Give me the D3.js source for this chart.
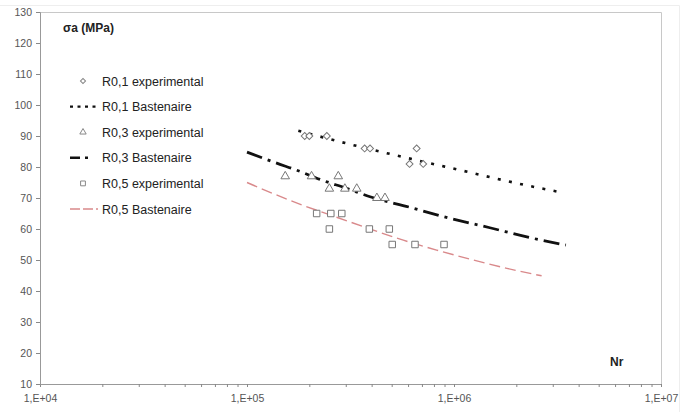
<!DOCTYPE html>
<html>
<head>
<meta charset="utf-8">
<script src="https://cdn.jsdelivr.net/npm/d3@7"></script>
<style>
  body { margin: 0; background: #fff; }
  text { font-family: "Liberation Sans", Arial, sans-serif; }
</style>
</head>
<body>
<div id="chart"></div>
<script>
// data
var expR01N = [1.9e5, 2.0e5, 2.43e5, 3.7e5, 3.93e5, 6.1e5, 6.6e5, 7.1e5];
var expR01S = [90, 90, 90, 86, 86, 81, 86, 81];
var expR03N = [1.53e5, 2.05e5, 2.76e5, 2.5e5, 2.97e5, 3.39e5, 4.24e5, 4.64e5];
var expR03S = [77, 77, 77, 73, 73, 73, 70, 70];
var expR05N = [2.17e5, 2.54e5, 2.87e5, 2.5e5, 3.9e5, 4.87e5, 5.03e5, 6.48e5, 8.95e5];
var expR05S = [65, 65, 65, 60, 60, 60, 55, 55, 55];

var basR01N = [1.77e5, 3.03e5, 4.64e5, 7.66e5, 1.17e6, 1.52e6, 2.2e6, 3.31e6];
var basR01S = [91.7, 87.6, 84.6, 81.2, 78.4, 76.6, 74.2, 71.8];
var basR03N = [1e5, 1.37e5, 1.8e5, 2.25e5, 3.03e5, 3.93e5, 6.12e5, 8.87e5, 1.49e6, 2.33e6, 3.47e6];
var basR03S = [84.8, 81.4, 78.6, 76.0, 73.1, 70.4, 67.0, 64.0, 60.4, 57.2, 54.8];
var basR05N = [1e5, 1.34e5, 1.87e5, 2.71e5, 3.93e5, 5.69e5, 8.24e5, 1.24e6, 1.8e6, 2.65e6];
var basR05S = [75, 71.4, 67.6, 63.8, 60.0, 56.4, 53.2, 50.0, 47.3, 44.9];

var yTicks = [10, 20, 30, 40, 50, 60, 70, 80, 90, 100, 110, 120, 130];
var xMajor = [1e4, 1e5, 1e6, 1e7];

var legendLabels = ["R0,1 experimental", "R0,1 Bastenaire", "R0,3 experimental",
  "R0,3 Bastenaire", "R0,5 experimental", "R0,5 Bastenaire"];

var svgWidth = 691;
var svgHeight = 412;
var margin = { top: 12, right: 30, bottom: 28, left: 40 };
var width = svgWidth - margin.left - margin.right;
var height = svgHeight - margin.top - margin.bottom;

var svg = d3.select("#chart").append("svg")
  .attr("width", svgWidth)
  .attr("height", svgHeight);

svg.append("rect").attr("width", svgWidth).attr("height", svgHeight).attr("fill", "#fff");

// faint outer chart border
svg.append("path")
  .attr("d", "M0,5.5H679.5V412")
  .attr("fill", "none").attr("stroke", "#eee");

var chartGroup = svg.append("g")
  .attr("transform", `translate(${margin.left}, ${margin.top})`);

var x = d3.scaleLog().domain([1e4, 1e7]).range([0, width]);
var y = d3.scaleLinear().domain([10, 130]).range([height, 0]);

// plot area border (top and right)
chartGroup.append("path")
  .attr("d", `M0,0.5H${width + 0.5}V${height}`)
  .attr("fill", "none").attr("stroke", "#c8c8c8");

// minor ticks 2..9 per decade
var minorTicks = [];
[1e4, 1e5, 1e6].forEach(function(d) {
  for (var k = 2; k <= 9; k++) minorTicks.push(d * k);
});

var bottomAxis = d3.axisBottom(x)
  .tickValues(minorTicks.concat(xMajor))
  .tickSize(3)
  .tickFormat(function(d) {
    return xMajor.indexOf(d) >= 0 ? "1,E+0" + Math.round(Math.log10(d)) : "";
  });

var xAxisG = chartGroup.append("g")
  .attr("transform", `translate(0, ${height})`)
  .call(bottomAxis);
xAxisG.select(".domain").attr("stroke", "#999");
xAxisG.selectAll(".tick line").attr("stroke", "#888");
xAxisG.selectAll(".tick text")
  .attr("y", 11)
  .attr("fill", "#555")
  .attr("font-size", 10.5)
  .attr("font-family", "Liberation Sans, Arial, sans-serif");

var leftAxis = d3.axisLeft(y).tickValues(yTicks).tickSize(4).tickPadding(4);
var yAxisG = chartGroup.append("g").call(leftAxis);
yAxisG.select(".domain").attr("stroke", "#999");
yAxisG.selectAll(".tick line").attr("stroke", "#888");
yAxisG.selectAll(".tick text")
  .attr("fill", "#555")
  .attr("font-size", 10.5)
  .attr("font-family", "Liberation Sans, Arial, sans-serif");

// Bastenaire curves
var line = d3.line()
  .x(d => x(d[0]))
  .y(d => y(d[1]))
  .curve(d3.curveMonotoneX);

var curves = [
  { n: basR01N, s: basR01S, color: "#111", width: 2.6, dash: "3,8.4", leg: "3,4.5" },
  { n: basR03N, s: basR03S, color: "#111", width: 2.8, dash: "16,6,3,6", leg: "10,5,3,20" },
  { n: basR05N, s: basR05S, color: "#d9898b", width: 1.4, dash: "11,5", leg: "10,3" }
];

curves.forEach(function(c) {
  chartGroup.append("path")
    .datum(d3.zip(c.n, c.s))
    .attr("d", line)
    .attr("fill", "none")
    .attr("stroke", c.color)
    .attr("stroke-width", c.width)
    .attr("stroke-dasharray", c.dash);
});

// experimental points (diamond = square turned 45 degrees, as in Excel)
var pointSets = [
  { n: expR01N, s: expR01S, type: d3.symbolSquare, size: 24, rot: 45 },
  { n: expR03N, s: expR03S, type: d3.symbolTriangle, size: 32, rot: 0 },
  { n: expR05N, s: expR05S, type: d3.symbolSquare, size: 42, rot: 0 }
];

pointSets.forEach(function(p) {
  chartGroup.selectAll(null)
    .data(d3.zip(p.n, p.s))
    .enter()
    .append("path")
    .attr("transform", d => `translate(${x(d[0])}, ${y(d[1])}) rotate(${p.rot})`)
    .attr("d", d3.symbol().type(p.type).size(p.size))
    .attr("fill", "#fff")
    .attr("stroke", "#777")
    .attr("stroke-width", 1);
});

// axis titles
chartGroup.append("text")
  .attr("x", 23).attr("y", 20)
  .attr("font-size", 12).attr("font-weight", "bold").attr("fill", "#222")
  .text("σa (MPa)");

chartGroup.append("text")
  .attr("x", 570).attr("y", 354)
  .attr("font-size", 12).attr("font-weight", "bold").attr("fill", "#222")
  .text("Nr");

// legend
var legend = chartGroup.append("g").attr("transform", "translate(0, 69)");
var rowH = 25.6;
legendLabels.forEach(function(label, i) {
  var g = legend.append("g").attr("transform", `translate(0, ${i * rowH})`);
  if (i % 2 === 0) {
    var p = pointSets[i / 2];
    g.append("path")
      .attr("transform", `translate(43, 0) rotate(${p.rot})`)
      .attr("d", d3.symbol().type(p.type).size(p.size * 0.55))
      .attr("fill", "#fff").attr("stroke", "#888");
  } else {
    var c = curves[(i - 1) / 2];
    g.append("line")
      .attr("x1", 30).attr("x2", 58)
      .attr("stroke", c.color)
      .attr("stroke-width", i === 5 ? 1.4 : 2.4)
      .attr("stroke-dasharray", c.leg);
  }
  g.append("text")
    .attr("x", 62).attr("y", 4.5)
    .attr("font-size", 12.5).attr("fill", "#222")
    .text(label);
});
</script>
</body>
</html>
